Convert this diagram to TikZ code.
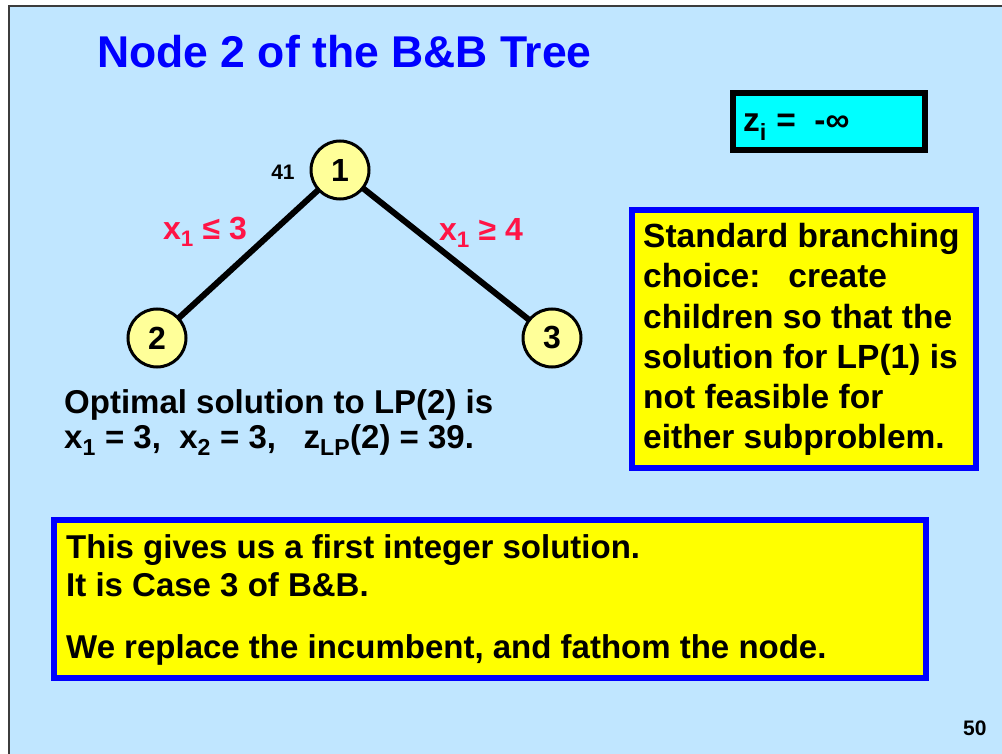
\documentclass[tikz,border=0pt]{standalone}
\usepackage{fontspec}
\setmainfont{Liberation Sans}
\usetikzlibrary{backgrounds}
\definecolor{bgblue}{RGB}{192,230,255}
\definecolor{nodeyellow}{RGB}{255,255,153}
\definecolor{labred}{RGB}{255,20,70}
\definecolor{framegray}{RGB}{60,60,60}
\definecolor{boxyellow}{RGB}{255,255,0}
\definecolor{boxcyan}{RGB}{0,255,255}
\definecolor{boxblue}{RGB}{0,0,255}
\tikzset{
  bb/.style={anchor=base west, inner sep=0pt},
  bodyf/.style={font=\fontsize{33.5}{40}\selectfont\bfseries},
  midf/.style={font=\fontsize{33}{38}\selectfont\bfseries},
  treenode/.style={circle, draw=black, line width=3pt, fill=nodeyellow, minimum size=58pt, inner sep=0pt, font=\fontsize{32}{36}\selectfont\bfseries},
  edge/.style={line width=6pt, black},
  elabel/.style={text=labred, font=\fontsize{32}{36}\selectfont\bfseries, inner sep=0pt},
  bluebox/.style={draw=boxblue, line width=6pt, fill=boxyellow, anchor=north west, inner sep=0pt},
}
\begin{document}
\begin{tikzpicture}[x=1pt,y=-1pt]
\useasboundingbox (0,0) rectangle (1002,754);
\begin{scope}[on background layer]
  \fill[white] (0,0) rectangle (1002,754);
  \fill[bgblue] (8,5) rectangle (1002,754);
  \draw[framegray, line width=2pt] (9,754) -- (9,6) -- (1002,6);
\end{scope}

\node[bb, text=boxblue, font=\fontsize{44.5}{50}\selectfont\bfseries] (title) at (97,68) {Node 2 of the B\&B Tree};

\node[draw=black, line width=6pt, fill=boxcyan, minimum width=192pt, minimum height=57pt, anchor=north west, inner sep=0pt] (zbox) at (730,90) {};
\node[bb, bodyf] (ztxt) at (743,132) {z\textsubscript{i} =\ \ -∞};

\node[treenode] (n1) at (340,170) {1};
\node[treenode] (n2) at (157,338) {2};
\node[treenode] (n3) at (552,338) {3};
\begin{scope}[on background layer]
  \draw[edge] (n1.center) -- (n2.center);
  \draw[edge] (n1.center) -- (n3.center);
\end{scope}
\node[font=\fontsize{21}{24}\selectfont\bfseries, inner sep=0pt] (lab41) at (283,172) {41};
\node[elabel] (l12) at (205,232) {x\textsubscript{1} ≤ 3};
\node[elabel] (l13) at (481,233) {x\textsubscript{1} ≥ 4};

\node[bb, midf] (opt1) at (64,413) {Optimal solution to LP(2) is};
\node[bb, midf] (opt2) at (64,448) {x\textsubscript{1} = 3,\ \ x\textsubscript{2} = 3,\ \ \ z\textsubscript{LP}(2) = 39.};

\node[bluebox, minimum width=344pt, minimum height=258pt] (rbox) at (629,207) {};
\node[bb, bodyf] (r1) at (643,248) {Standard branching};
\node[bb, bodyf] (r2) at (643,288) {choice:\ \ \ create};
\node[bb, bodyf] (r3) at (643,328) {children so that the};
\node[bb, bodyf] (r4) at (643,368) {solution for LP(1) is};
\node[bb, bodyf] (r5) at (643,408) {not feasible for};
\node[bb, bodyf] (r6) at (643,448) {either subproblem.};

\node[bluebox, minimum width=872pt, minimum height=158pt] (bbox) at (51,517) {};
\node[bb, midf] (b1) at (66,558) {This gives us a first integer solution.};
\node[bb, midf] (b2) at (66,596) {It is Case 3 of B\&B.};
\node[bb, midf] (b3) at (66,658) {We replace the incumbent, and fathom the node.};

\node[bb, font=\fontsize{21}{24}\selectfont\bfseries] (page) at (963,735) {50};
\end{tikzpicture}
\end{document}
